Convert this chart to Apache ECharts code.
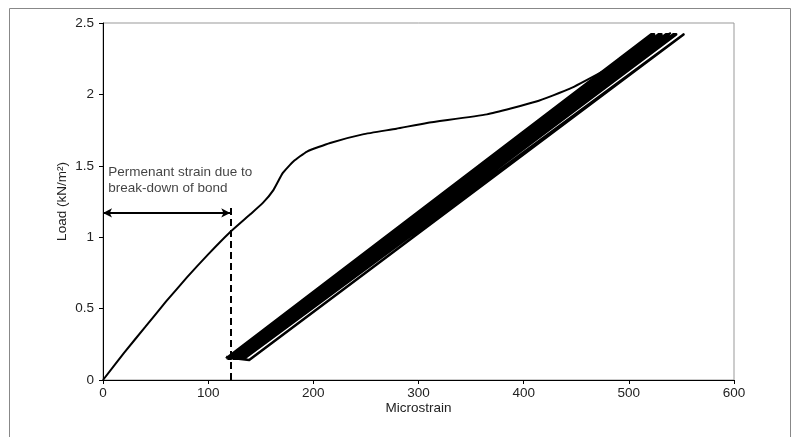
<!DOCTYPE html>
<html>
<head>
<meta charset="utf-8">
<script src="https://cdn.jsdelivr.net/npm/echarts@6/dist/echarts.min.js"></script>
<style>
  html, body { margin: 0; padding: 0; background: #fff; }
  #chart { width: 797px; height: 437px; }
</style>
</head>
<body>
<div id="chart"></div>
<script>
// 初次加载曲线 (microstrain, load)
const firstLoading = [
  [0, 0], [20, 0.19], [40, 0.37], [60, 0.55], [80, 0.72], [100, 0.88],
  [120, 1.03], [140, 1.16], [152, 1.24], [162, 1.33], [171, 1.45],
  [181, 1.53], [194, 1.60], [216, 1.66], [247, 1.72], [279, 1.76],
  [308, 1.80], [365, 1.86], [412, 1.95], [444, 2.04], [475, 2.16],
  [507, 2.29], [523, 2.37], [540, 2.43]
];

// 循环加载: 每个循环的最小/最大荷载对应的应变
const cycleLoads = [0.15, 2.42];
const cycleStrains = [
  [117, 521],
  [119, 524],
  [122, 528],
  [124, 531],
  [127, 535],
  [129, 538],
  [132, 542],
  [134, 545]
];
const lastUnloading = [[552, 2.42], [139, 0.14], [117, 0.16]];

// 标注
const offsetStrain = 121;
const dashTopLoad = 1.23;
const arrowLoad = 1.17;
const noteText = 'Permenant strain due to\nbreak-down of bond';
const notePos = [3, 1.40];

// 坐标轴
const xTicks = { min: 0, max: 600, interval: 100 };
const yTicks = { min: 0, max: 2.5, interval: 0.5 };

const FONT = 'Arial, "Liberation Sans", sans-serif';

// 拼接循环路径: 上行、下行交替
function buildCycles() {
  const pts = [];
  cycleStrains.forEach((row, i) => {
    const path = row.map((s, k) => [s, cycleLoads[k]]);
    if (i % 2 === 1) path.reverse();
    path.forEach(p => pts.push(p));
  });
  lastUnloading.forEach(p => pts.push(p));
  return pts;
}

const chart = echarts.init(document.getElementById('chart'));

const option = {
  backgroundColor: '#fff',
  animation: false,
  textStyle: { fontFamily: FONT },
  grid: {
    left: 103, top: 23, right: 63, bottom: 57,
    show: true, borderColor: '#999', borderWidth: 1
  },
  xAxis: {
    type: 'value',
    min: xTicks.min, max: xTicks.max, interval: xTicks.interval,
    name: 'Microstrain', nameLocation: 'middle', nameGap: 21,
    nameMoveOverlap: false,
    nameTextStyle: { fontSize: 13.5, color: '#222', fontFamily: FONT },
    axisLine: { show: true, lineStyle: { color: '#000', width: 1 } },
    axisTick: { show: true, inside: false, length: 4, lineStyle: { color: '#000' } },
    axisLabel: { fontSize: 13.5, color: '#222', margin: 6, fontFamily: FONT },
    splitLine: { show: false }
  },
  yAxis: {
    type: 'value',
    min: yTicks.min, max: yTicks.max, interval: yTicks.interval,
    name: 'Load (kN/m²)', nameLocation: 'middle', nameGap: 34, nameRotate: 90,
    nameMoveOverlap: false,
    nameTextStyle: { fontSize: 13.5, color: '#222', fontFamily: FONT },
    axisLine: { show: true, lineStyle: { color: '#000', width: 1 } },
    axisTick: { show: true, inside: false, length: 4, lineStyle: { color: '#000' } },
    axisLabel: { fontSize: 13.5, color: '#222', margin: 9, fontFamily: FONT },
    splitLine: { show: false }
  },
  series: [
    {
      name: 'First loading',
      type: 'line',
      data: firstLoading,
      showSymbol: false,
      smooth: 0.15,
      lineStyle: { color: '#000', width: 2 },
      markLine: {
        silent: true,
        symbol: ['none', 'none'],
        label: { show: false },
        lineStyle: { color: '#000', width: 2, type: [7, 4] },
        data: [
          [{ coord: [offsetStrain, 0] }, { coord: [offsetStrain, dashTopLoad] }]
        ]
      }
    },
    {
      name: 'Offset arrow',
      type: 'line',
      data: [],
      markLine: {
        silent: true,
        symbol: ['arrow', 'arrow'],
        symbolSize: [7, 9],
        label: { show: false },
        lineStyle: { color: '#000', width: 2, type: 'solid' },
        data: [
          [{ coord: [0, arrowLoad] }, { coord: [offsetStrain, arrowLoad] }]
        ]
      }
    },
    {
      name: 'Cyclic loading',
      type: 'line',
      data: buildCycles(),
      showSymbol: false,
      lineStyle: { color: '#000', width: 2.6, join: 'round' }
    },
    {
      name: 'Note',
      type: 'scatter',
      data: [notePos],
      symbolSize: 0,
      silent: true,
      label: {
        show: true,
        position: 'right',
        distance: 2,
        formatter: noteText,
        fontSize: 13.5,
        lineHeight: 16,
        color: '#111',
        fontFamily: FONT
      }
    }
  ],
  graphic: [
    {
      type: 'rect',
      shape: { x: 9.5, y: 8.5, width: 781, height: 440 },
      style: { fill: 'none', stroke: '#888', lineWidth: 1 },
      silent: true
    }
  ]
};

chart.setOption(option);
</script>
</body>
</html>
